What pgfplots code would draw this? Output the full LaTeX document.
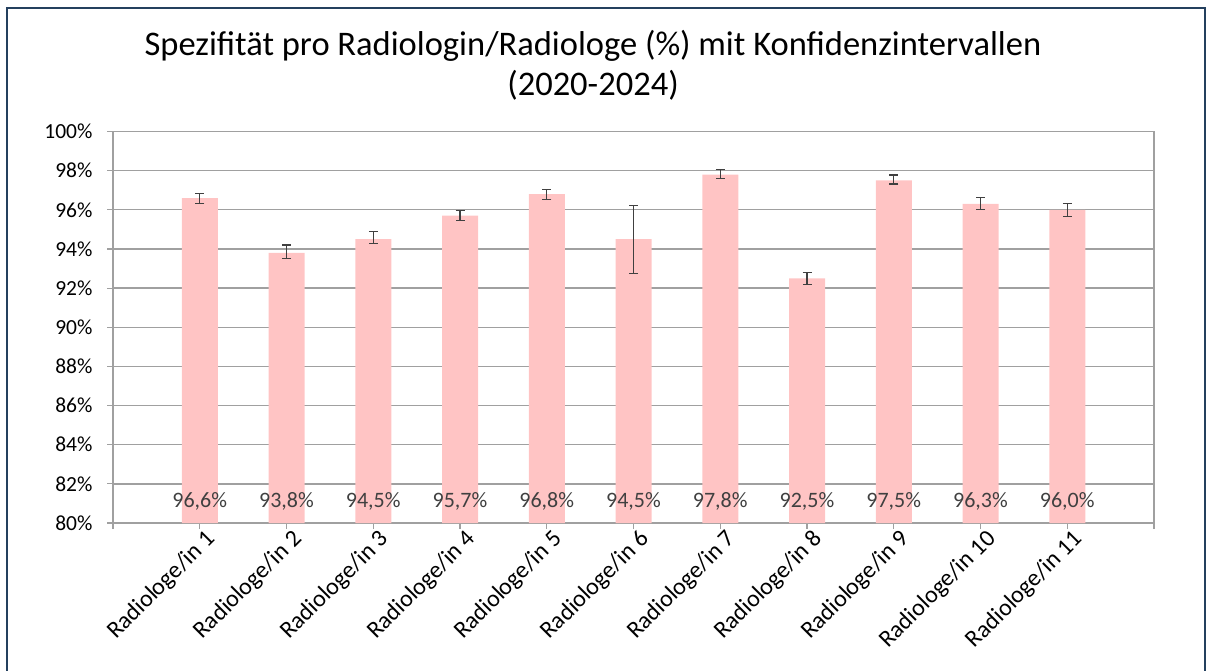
\documentclass[border=0pt]{standalone}
\usepackage{pgfplots}
\usepackage{pgfplotstable}
\pgfplotsset{compat=1.18}
\usepackage{fontspec}
\setmainfont{Carlito}
\definecolor{barpink}{HTML}{FFC4C4}
\definecolor{gridgray}{HTML}{A0A0A0}
\definecolor{framecol}{HTML}{24405E}
\definecolor{errcol}{HTML}{404040}
\definecolor{txt}{HTML}{404040}
\pgfplotstableread{
x val ep em
1 96.6 0.22 0.29
2 93.8 0.40 0.31
3 94.5 0.37 0.23
4 95.7 0.26 0.26
5 96.8 0.24 0.29
6 94.5 1.74 1.75
7 97.8 0.25 0.20
8 92.5 0.28 0.32
9 97.5 0.28 0.18
10 96.3 0.32 0.30
11 96.0 0.33 0.35
}\datatable
\begin{document}
\begin{tikzpicture}[x=1pt,y=1pt]
\path[use as bounding box] (0,0) rectangle (1209,670);
\draw[framecol, line width=2.5pt] (7,-5) -- (7,662) -- (1205,662) -- (1205,-5);
\node[align=center, font=\fontsize{34.5}{40}\selectfont, text=black] at (593,605)
  {Spezifität pro Radiologin/Radiologe (\%) mit Konfidenzintervallen\\(2020-2024)};
\begin{axis}[
  at={(113pt,147pt)}, anchor=south west,
  scale only axis, width=1041pt, height=391.5pt,
  xmin=0, xmax=12, ymin=80, ymax=100,
  xtick={0,...,12},
  xticklabels={,Radiologe/in 1,Radiologe/in 2,Radiologe/in 3,Radiologe/in 4,Radiologe/in 5,Radiologe/in 6,Radiologe/in 7,Radiologe/in 8,Radiologe/in 9,Radiologe/in 10,Radiologe/in 11,},
  xticklabel style={rotate=45, anchor=east, font=\fontsize{24}{26}\selectfont, text=black, inner sep=1pt, yshift=-13pt, xshift=5pt},
  ytick={80,82,...,100},
  yticklabels={80\%,82\%,84\%,86\%,88\%,90\%,92\%,94\%,96\%,98\%,100\%},
  yticklabel style={font=\fontsize{21.5}{24}\selectfont, text=black, xshift=-11pt},
  ymajorgrids,
  major grid style={gridgray, line width=1.3pt},
  axis line style={gridgray, line width=1.3pt},
  tick style={gridgray, line width=1.1pt},
  major tick length=6pt,
  tick align=outside,
  xtick pos=bottom, ytick pos=left,
  clip=false,
]
\addplot[ybar, bar width=36pt, fill=barpink, draw=none,
  error bars/.cd, y dir=both, y explicit,
  error bar style={errcol, line width=1.1pt},
  error mark options={rotate=90, mark size=4.5pt, errcol, line width=1.1pt}]
  table[x=x, y=val, y error plus=ep, y error minus=em] {\datatable};
\addplot[draw=none, mark=none,
  point meta=explicit,
  nodes near coords={\pgfmathprintnumber[fixed, fixed zerofill, precision=1, use comma, assume math mode=true]{\pgfplotspointmeta}\%},
  every node near coord/.append style={anchor=center, font=\fontsize{22}{24}\selectfont, text=txt}]
  table[x=x, y expr=81.1, meta=val] {\datatable};
\end{axis}
\end{tikzpicture}
\end{document}
